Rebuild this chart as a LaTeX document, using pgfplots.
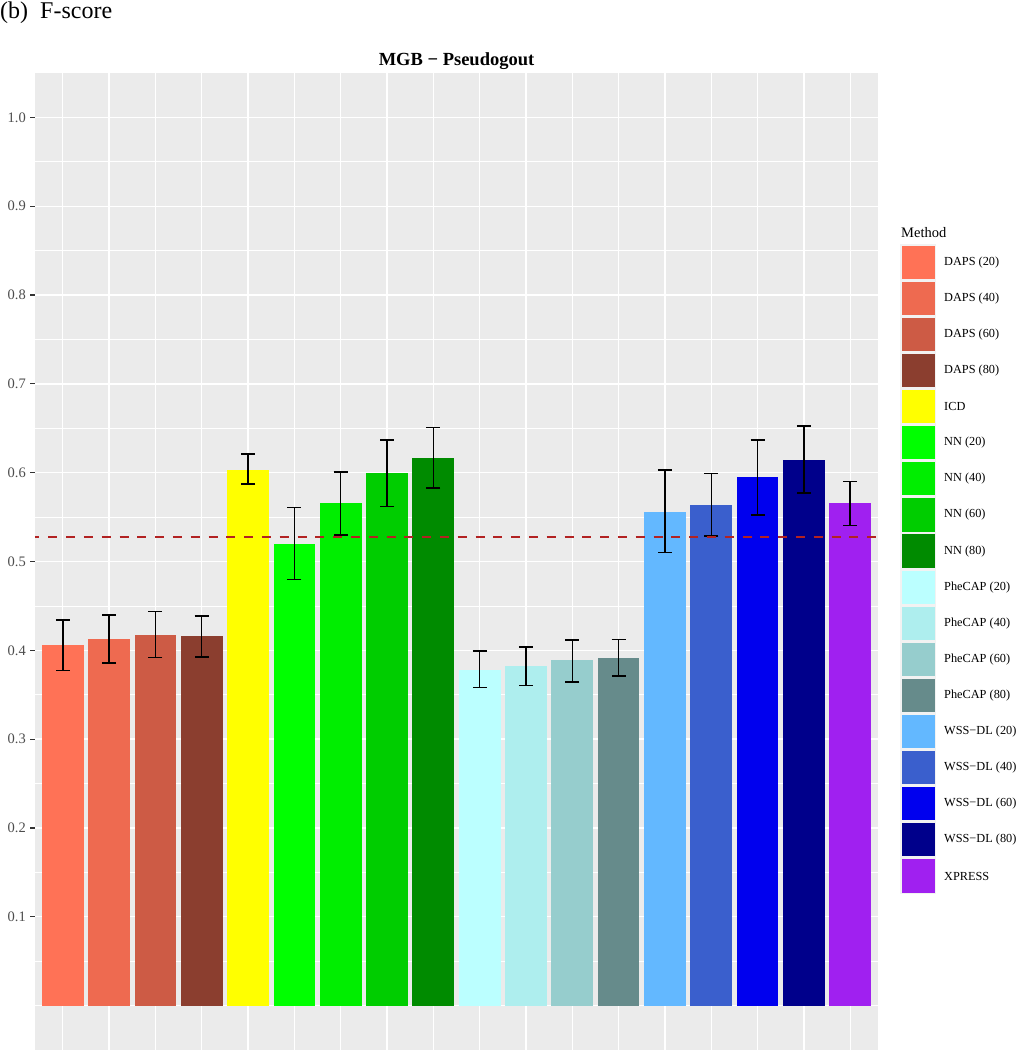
\documentclass[border=0pt]{standalone}
\usepackage{fontspec}
\setmainfont{Liberation Serif}
\usepackage{pgfplots}
\pgfplotsset{compat=1.18}

\definecolor{bg}{HTML}{EBEBEB}
\definecolor{cDAPSa}{HTML}{FF7256}
\definecolor{cDAPSb}{HTML}{EE6A50}
\definecolor{cDAPSc}{HTML}{CD5B45}
\definecolor{cDAPSd}{HTML}{8B3E2F}
\definecolor{cICD}{HTML}{FFFF00}
\definecolor{cNNa}{HTML}{00FF00}
\definecolor{cNNb}{HTML}{00EE00}
\definecolor{cNNc}{HTML}{00CD00}
\definecolor{cNNd}{HTML}{008B00}
\definecolor{cPHa}{HTML}{BBFFFF}
\definecolor{cPHb}{HTML}{AEEEEE}
\definecolor{cPHc}{HTML}{96CDCD}
\definecolor{cPHd}{HTML}{668B8B}
\definecolor{cWSa}{HTML}{63B8FF}
\definecolor{cWSb}{HTML}{3A5FCD}
\definecolor{cWSc}{HTML}{0000EE}
\definecolor{cWSd}{HTML}{00008B}
\definecolor{cXP}{HTML}{A020F0}
\definecolor{refline}{HTML}{B22222}
\definecolor{tickcol}{HTML}{333333}
\definecolor{labcol}{HTML}{4D4D4D}
\definecolor{keybg}{HTML}{F2F2F2}

\newcommand{\mybar}[5]{%
  \addplot[ybar, bar width=41.7pt, bar shift=0pt, fill=#1, draw=none,
    error bars/.cd, y dir=both, y explicit,
    error bar style={draw=black, line width=1.5pt},
    error mark=-,
    error mark options={draw=black, line width=1.5pt, mark size=7pt, rotate=90}]
    coordinates {(#2,#3) += (0,#4) -= (0,#5)};}

\begin{document}
\begin{tikzpicture}
\useasboundingbox (0,0) rectangle (1017pt,1050pt);
\begin{axis}[
  at={(35pt,0pt)}, anchor=south west,
  scale only axis, width=843pt, height=977pt,
  xmin=-0.6, xmax=17.6, ymin=-0.05, ymax=1.05,
  axis background/.style={fill=bg},
  axis line style={draw=none},
  xtick={0,...,17}, xticklabels={},
  ytick={0.1,0.2,0.3,0.4,0.5,0.6,0.7,0.8,0.9,1.0},
  yticklabels={0.1,0.2,0.3,0.4,0.5,0.6,0.7,0.8,0.9,1.0},
  minor ytick={0,0.05,0.15,0.25,0.35,0.45,0.55,0.65,0.75,0.85,0.95},
  xmajorgrids, ymajorgrids, yminorgrids,
  major grid style={white, line width=1.3pt},
  minor grid style={white, line width=0.7pt},
  tick align=outside, ytick pos=left,
  major tick length=5pt, minor tick length=0pt,
  xtick style={draw=none},
  ytick style={tickcol, line width=1.2pt},
  /pgf/number format/assume math mode=true,
  yticklabel style={font=\fontsize{14.5}{16}\selectfont, text=labcol, inner sep=0pt, xshift=-4pt},
  clip=false,
]
\mybar{cDAPSa}{0}{0.406}{0.028}{0.029}
\mybar{cDAPSb}{1}{0.413}{0.027}{0.027}
\mybar{cDAPSc}{2}{0.4175}{0.026}{0.0255}
\mybar{cDAPSd}{3}{0.4156}{0.023}{0.023}
\mybar{cICD}{4}{0.603}{0.018}{0.016}
\mybar{cNNa}{5}{0.520}{0.041}{0.040}
\mybar{cNNb}{6}{0.566}{0.035}{0.036}
\mybar{cNNc}{7}{0.5995}{0.0375}{0.0375}
\mybar{cNNd}{8}{0.616}{0.035}{0.033}
\mybar{cPHa}{9}{0.378}{0.021}{0.020}
\mybar{cPHb}{10}{0.3826}{0.021}{0.022}
\mybar{cPHc}{11}{0.3886}{0.023}{0.024}
\mybar{cPHd}{12}{0.391}{0.021}{0.020}
\mybar{cWSa}{13}{0.556}{0.047}{0.046}
\mybar{cWSb}{14}{0.5635}{0.0355}{0.035}
\mybar{cWSc}{15}{0.5946}{0.042}{0.042}
\mybar{cWSd}{16}{0.6145}{0.038}{0.0375}
\mybar{cXP}{17}{0.5653}{0.025}{0.025}
\addplot[refline, line width=2pt, dash pattern=on 9pt off 8.8pt, dash phase=4.5pt]
  coordinates {(-0.6,0.528) (17.6,0.528)};
\end{axis}

% panel label and title
\node[anchor=base west, inner sep=0pt, font=\fontsize{24}{28}\selectfont] at (0pt,1031pt) {(b)};
\node[anchor=base west, inner sep=0pt, font=\fontsize{24}{28}\selectfont] at (40pt,1031pt) {F-score};
\node[anchor=base, inner sep=0pt, font=\fontsize{18.5}{22}\selectfont\bfseries] at (456.5pt,984pt) {MGB − Pseudogout};

% legend
\node[anchor=base west, inner sep=0pt, font=\fontsize{14.5}{17}\selectfont] at (901pt,812.5pt) {Method};
\foreach \c/\t [count=\i from 0] in {cDAPSa/DAPS (20),cDAPSb/DAPS (40),cDAPSc/DAPS (60),cDAPSd/DAPS (80),cICD/ICD,cNNa/NN (20),cNNb/NN (40),cNNc/NN (60),cNNd/NN (80),cPHa/PheCAP (20),cPHb/PheCAP (40),cPHc/PheCAP (60),cPHd/PheCAP (80),cWSa/WSS−DL (20),cWSb/WSS−DL (40),cWSc/WSS−DL (60),cWSd/WSS−DL (80),cXP/XPRESS}{
  \pgfmathsetmacro{\yc}{1050-262.3-36.1*\i}
  \fill[keybg] (900.3pt,\yc pt-18.05pt) rectangle (936.4pt,\yc pt+18.05pt);
  \fill[\c] (901.7pt,\yc pt-16.6pt) rectangle (935pt,\yc pt+16.6pt);
  \node[anchor=west, inner sep=0pt, font=\fontsize{12.3}{14}\selectfont] at (944pt,\yc pt) {\t};
}
\end{tikzpicture}
\end{document}
